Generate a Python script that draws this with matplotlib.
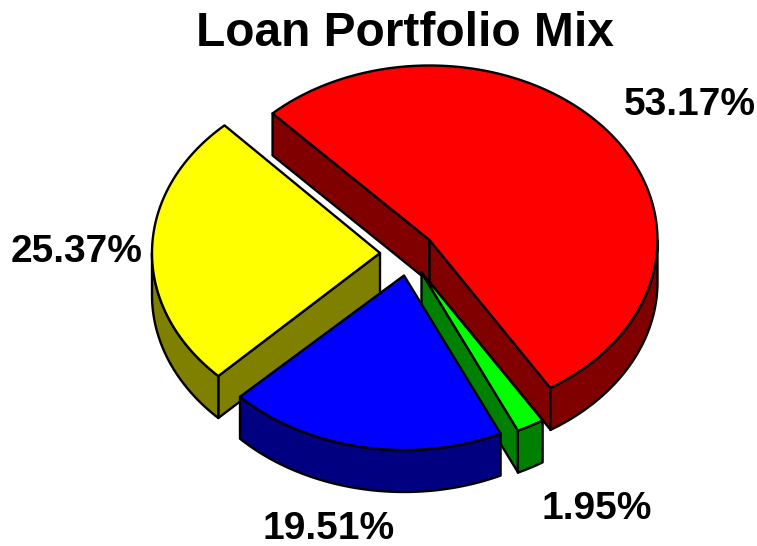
import numpy as np
import matplotlib
matplotlib.use('Agg')
import matplotlib.pyplot as plt
from matplotlib.patches import Polygon

plt.rcParams['font.family'] = ['Liberation Sans', 'DejaVu Sans']

title = 'Loan Portfolio Mix'
shares = [53.17, 1.95, 19.51, 25.37]
labels = ['53.17%', '1.95%', '19.51%', '25.37%']

top_colors = ['#ff0000', '#00ff00', '#0000ff', '#ffff00']
side_colors = ['#800000', '#008000', '#000080', '#808000']

# layout in pixels
cx, cy = 429.5, 240
rx, ry = 228, 174.5
depth = 42
start_angle = 133.5
offsets = [(0, 0), (-8, 32.5), (-25.5, 35.5), (-49.5, 13)]
label_pos = [(690, 105), (597, 509), (329, 529), (77, 252)]
draw_order = [0, 3, 1, 2]

fig = plt.figure(figsize=(7.57, 5.46), dpi=100)
ax = fig.add_axes([0, 0, 1, 1])
ax.set_xlim(0, 757)
ax.set_ylim(546, 0)
ax.axis('off')


def rim(x0, y0, a):
    return x0 + rx*np.cos(np.radians(a)), y0 - ry*np.sin(np.radians(a))


def face(pts, color, z):
    ax.add_patch(Polygon(pts, closed=True, facecolor=color, edgecolor='black',
                         linewidth=1.7, joinstyle='round', zorder=z))


# wedge angles go clockwise from the start angle
edges = start_angle - np.cumsum([0] + shares)*3.6

for z, i in enumerate(draw_order):
    a0, a1 = edges[i], edges[i+1]
    x0, y0 = cx + offsets[i][0], cy + offsets[i][1]
    z = z*10

    # straight walls, only when they face the viewer
    if np.cos(np.radians(a0)) < 0:
        xr, yr = rim(x0, y0, a0)
        face([(x0, y0), (xr, yr), (xr, yr+depth), (x0, y0+depth)], side_colors[i], z+1)
    if np.cos(np.radians(a1)) > 0:
        xr, yr = rim(x0, y0, a1)
        face([(x0, y0), (xr, yr), (xr, yr+depth), (x0, y0+depth)], side_colors[i], z+1)

    # outer wall, front half of the ellipse only
    lo = np.arange(np.floor(a1), a0, 1.0)
    lo = np.append(lo, [a1, a0])
    lo = np.unique(lo)
    front = lo[np.sin(np.radians(lo)) <= 0]
    if len(front) > 1:
        upper = [rim(x0, y0, a) for a in front]
        lower = [(x, y+depth) for x, y in upper][::-1]
        face(upper + lower, side_colors[i], z+2)

    # top
    arc = [rim(x0, y0, a) for a in lo]
    face([(x0, y0)] + arc, top_colors[i], z+3)

for lab, (x, y) in zip(labels, label_pos):
    ax.text(x, y, lab, fontsize=28, fontweight='bold', ha='center', va='center', color='black', zorder=100)

ax.text(405, 33, title, fontsize=34.5, fontweight='bold', ha='center', va='center', color='black', zorder=100)

fig.savefig('out.png', dpi=100, facecolor='white')
